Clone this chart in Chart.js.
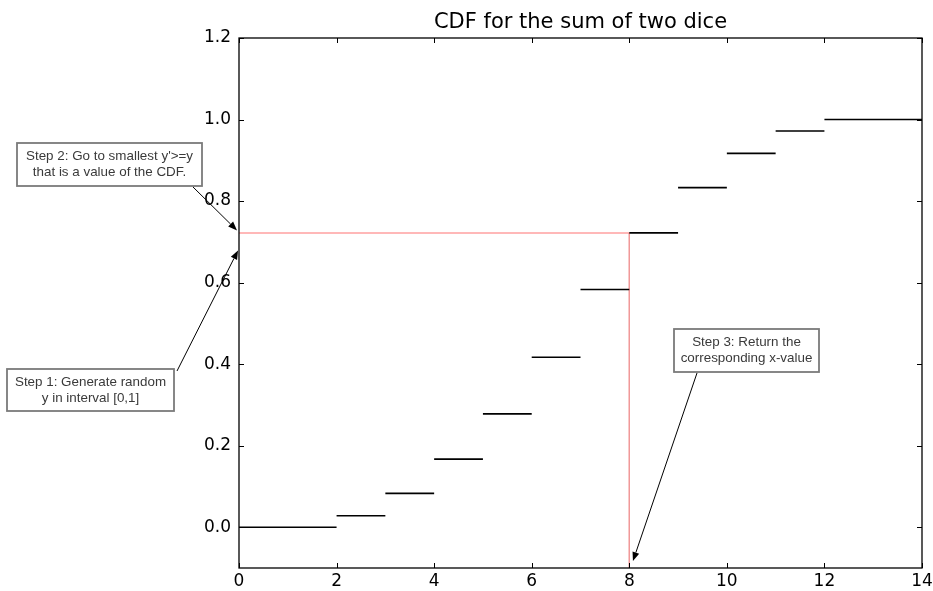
<!DOCTYPE html>
<html>
<head>
<meta charset="utf-8">
<script src="https://cdn.jsdelivr.net/npm/chart.js@4.4.0/dist/chart.umd.min.js"></script>
<style>
  html, body { margin: 0; padding: 0; background: #fff; }
  #wrap { width: 933px; height: 591px; }
</style>
</head>
<body>
<div id="wrap"><canvas id="c" width="933" height="591"></canvas></div>
<script>
// ---- data ----
const stepStart = [0, 2, 3, 4, 5, 6, 7, 8, 9, 10, 11, 12];
const stepEnd   = [2, 3, 4, 5, 6, 7, 8, 9, 10, 11, 12, 14];
const cdfValues = [0, 0.028, 0.083, 0.167, 0.278, 0.417, 0.583, 0.722, 0.833, 0.917, 0.972, 1.0];
const chosenY = 0.722;
const chosenX = 8;
const xTicks = [0, 2, 4, 6, 8, 10, 12, 14];
const yTicks = [0.0, 0.2, 0.4, 0.6, 0.8, 1.0, 1.2];
const yMin = -0.1, yMax = 1.2;
const titleText = 'CDF for the sum of two dice';
const noteTexts = [
  ["Step 2: Go to smallest y'>=y", "that is a value of the CDF."],
  ["Step 1: Generate random", "y in interval [0,1]"],
  ["Step 3: Return the", "corresponding x-value"]
];
const noteTipX = [-0.04, -0.02, 8.075];
const noteTipY = [0.728, 0.679, -0.083];

// ---- build datasets ----
const stepData = [];
for (let i = 0; i < stepStart.length; i++) {
  stepData.push({x: stepStart[i], y: cdfValues[i]});
  stepData.push({x: stepEnd[i], y: cdfValues[i]});
  stepData.push({x: stepEnd[i], y: null});
}

// layout of note boxes (pixels): [left, top, right, bottom], arrow start
const noteBoxes = [
  {box: [17, 143, 202, 186], from: [193, 187]},
  {box: [7, 369, 174, 411], from: [177, 371]},
  {box: [674, 329, 819, 372], from: [697, 373]}
];

const framePlugin = {
  id: 'frame',
  afterDatasetsDraw(chart) {
    const {ctx, chartArea: a, scales} = chart;
    ctx.save();
    ctx.strokeStyle = '#000';
    ctx.lineWidth = 1.3;
    ctx.strokeRect(a.left, a.top, a.right - a.left, a.bottom - a.top);
    ctx.lineWidth = 1;
    const L = 5;
    ctx.beginPath();
    xTicks.forEach(v => {
      const px = Math.round(scales.x.getPixelForValue(v)) + 0.5;
      ctx.moveTo(px, a.bottom); ctx.lineTo(px, a.bottom - L);
      ctx.moveTo(px, a.top); ctx.lineTo(px, a.top + L);
    });
    yTicks.forEach(v => {
      const py = Math.round(scales.y.getPixelForValue(v)) + 0.5;
      ctx.moveTo(a.left, py); ctx.lineTo(a.left + L, py);
      ctx.moveTo(a.right, py); ctx.lineTo(a.right - L, py);
    });
    ctx.stroke();
    ctx.restore();
  },
  afterDraw(chart) {
    const {ctx, scales, chartArea: a} = chart;
    ctx.save();
    // title centred over the plot area
    ctx.fillStyle = '#000';
    ctx.font = '21px "DejaVu Sans"';
    ctx.textAlign = 'center';
    ctx.textBaseline = 'alphabetic';
    ctx.fillText(titleText, (a.left + a.right) / 2, 28);

    noteBoxes.forEach((nb, i) => {
      const [l, t, r, b] = nb.box;
      ctx.fillStyle = '#fff';
      ctx.fillRect(l, t, r - l, b - t);
      ctx.strokeStyle = '#7a7a7a';
      ctx.lineWidth = 1.8;
      ctx.strokeRect(l, t, r - l, b - t);
      ctx.fillStyle = '#3a3a3a';
      ctx.font = '13.4px "Liberation Sans", Arial, sans-serif';
      ctx.textAlign = 'center';
      ctx.textBaseline = 'middle';
      const cx = (l + r) / 2;
      const lines = noteTexts[i];
      const h = b - t;
      ctx.fillText(lines[0], cx, t + h * 0.32);
      ctx.fillText(lines[1], cx, t + h * 0.69);
      // arrow
      const tx = scales.x.getPixelForValue(noteTipX[i]);
      const ty = scales.y.getPixelForValue(noteTipY[i]);
      const [fx, fy] = nb.from;
      const ang = Math.atan2(ty - fy, tx - fx);
      const hl = 9, hw = 3.5;
      const bx = tx - hl * Math.cos(ang), by = ty - hl * Math.sin(ang);
      ctx.strokeStyle = '#000';
      ctx.lineWidth = 1;
      ctx.beginPath();
      ctx.moveTo(fx, fy); ctx.lineTo(bx, by);
      ctx.stroke();
      ctx.fillStyle = '#000';
      ctx.beginPath();
      ctx.moveTo(tx, ty);
      ctx.lineTo(bx + hw * Math.sin(ang), by - hw * Math.cos(ang));
      ctx.lineTo(bx - hw * Math.sin(ang), by + hw * Math.cos(ang));
      ctx.closePath();
      ctx.fill();
    });
    ctx.restore();
  }
};

new Chart(document.getElementById('c'), {
  type: 'scatter',
  data: {
    datasets: [
      {
        label: 'CDF',
        data: stepData,
        showLine: true,
        spanGaps: false,
        borderColor: '#000',
        borderWidth: 1.6,
        pointRadius: 0,
        order: 1
      },
      {
        label: 'h',
        data: [{x: 0, y: chosenY}, {x: chosenX, y: chosenY}],
        showLine: true,
        borderColor: 'rgba(255,120,120,0.7)',
        borderWidth: 1.5,
        pointRadius: 0,
        order: 2
      },
      {
        label: 'v',
        data: [{x: chosenX, y: chosenY}, {x: chosenX, y: yMin}],
        showLine: true,
        borderColor: '#f09a9a',
        borderWidth: 1,
        pointRadius: 0,
        order: 2
      }
    ]
  },
  options: {
    responsive: false,
    animation: false,
    devicePixelRatio: 1,
    layout: { padding: { left: 0, right: 11, top: 38, bottom: 0 } },
    plugins: {
      legend: { display: false },
      tooltip: { enabled: false },
      title: { display: false }
    },
    scales: {
      x: {
        type: 'linear',
        min: 0, max: 14,
        afterBuildTicks: s => { s.ticks = xTicks.map(v => ({value: v})); },
        afterFit: s => { s.height = 23; s.paddingLeft = 0; s.paddingRight = 0; },
        grid: { display: false, drawTicks: false },
        border: { display: false },
        ticks: {
          color: '#000',
          padding: 3,
          maxRotation: 0,
          autoSkip: false,
          font: { family: '"DejaVu Sans"', size: 17 },
          callback: v => String(v)
        }
      },
      y: {
        type: 'linear',
        min: yMin, max: yMax,
        afterBuildTicks: s => { s.ticks = yTicks.map(v => ({value: v})); },
        afterFit: s => { s.width = 239; s.paddingTop = 0; s.paddingBottom = 0; },
        grid: { display: false, drawTicks: false },
        border: { display: false },
        ticks: {
          color: '#000',
          padding: 8,
          autoSkip: false,
          font: { family: '"DejaVu Sans"', size: 17 },
          callback: v => Number(v).toFixed(1)
        }
      }
    }
  },
  plugins: [framePlugin]
});
</script>
</body>
</html>
